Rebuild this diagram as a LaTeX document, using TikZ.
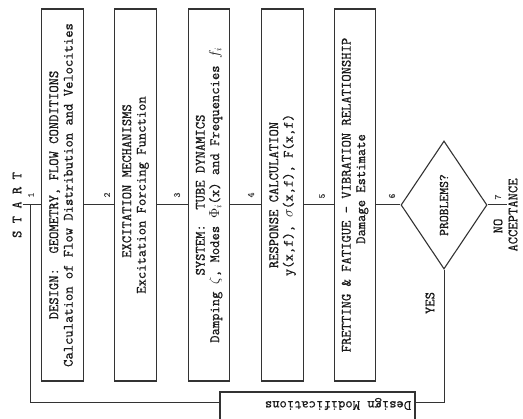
\documentclass[tikz,border=0pt]{standalone}
\usepackage{graphicx}
\usepackage{fontspec}
\usetikzlibrary{shapes.geometric}
\newfontfamily\lmtw{Latin Modern Mono}[FakeBold=0.7]
\newcommand\tw{\fontsize{14.2}{14.5}\selectfont\lmtw}
\newcommand\twsmall{\fontsize{13.3}{14}\selectfont\lmtw}
\newcommand\rt[1]{\rotatebox{90}{\begin{tabular}{@{}c@{}}#1\end{tabular}}}
\tikzset{
  ln/.style={draw=black!80, line width=1pt},
  stepbox/.style={draw=black!80, line width=1.1pt, rectangle, minimum width=41.5pt,
    minimum height=372pt, inner sep=0pt, font=\tw, text=black!90},
  num/.style={font=\fontsize{9.5}{9.5}\selectfont\lmtw, text=black!75, inner sep=0pt},
  lbl/.style={font=\tw, text=black!90, inner sep=1pt}
}
\begin{document}
\begin{tikzpicture}[x=1pt,y=-1pt]
\useasboundingbox (0,0) rectangle (523,419);
\coordinate (m) at (0,205);
\coordinate (yb) at (0,403);
\coordinate (j) at (30,205);
% start
\node[lbl] (start) at (17,205) {\rotatebox{90}{S T A R T}};
% boxes
\node[stepbox] (b1) at (62.5,195) {\rt{DESIGN:\ \ GEOMETRY, FLOW CONDITIONS\hspace{8pt}\\Calculation of Flow Distribution and Velocities}};
\node[stepbox] (b2) at (135.5,195) {\rt{\hspace{28pt}EXCITATION MECHANISMS\\Excitation Forcing Function}};
\node[stepbox] (b3) at (209,195) {\rt{SYSTEM:\ \ TUBE DYNAMICS\hspace{14pt}\\Damping $\zeta$, Modes $\Phi_i$(x) and Frequencies $f_i$}};
\node[stepbox] (b4) at (282.5,195) {\rt{RESPONSE CALCULATION\hspace{20pt}\\y(x,f), $\sigma$(x,f), F(x,f)\hspace{10pt}}};
\node[stepbox] (b5) at (355,195) {\rt{FRETTING \& FATIGUE - VIBRATION RELATIONSHIP\\\hspace{12pt}Damage Estimate}};
% decision
\node[draw=black!80, line width=1.1pt, diamond, minimum width=86pt, minimum height=128pt,
  inner sep=0pt, font=\twsmall, text=black!90] (dia) at (444,205) {\rotatebox{90}{PROBLEMS?}\hspace{18pt}};
\node[lbl] (no) at (498,226) {\rotatebox{90}{NO}};
\node[lbl] (accept) at (513,215) {\rotatebox{90}{ACCEPTANCE}};
\node[lbl] (yes) at (430,303) {\rotatebox{90}{YES}};
% design modifications
\node[draw=black!80, line width=1.1pt, rectangle, minimum width=195pt, minimum height=32pt, inner sep=0pt] (dm) at (317.5,408) {};
\node[lbl] (dmt) at (338,404) {\rotatebox{180}{Design Modifications}};
% connectors
\draw[ln] (start.east) -- (b1.west |- m);
\draw[ln] (b1.east |- m) -- (b2.west |- m);
\draw[ln] (b2.east |- m) -- (b3.west |- m);
\draw[ln] (b3.east |- m) -- (b4.west |- m);
\draw[ln] (b4.east |- m) -- (b5.west |- m);
\draw[ln] (b5.east |- m) -- (dia.west);
\draw[ln] (dia.east) -- (accept.west |- m);
\draw[ln] (dia.south) |- (dm.east |- yb);
\draw[ln] (dm.west |- yb) -| (j);
% step numbers
\node[num] (n1) at (31,195) {\rotatebox{90}{1}};
\node[num] (n2) at (107,195) {\rotatebox{90}{2}};
\node[num] (n3) at (177,195) {\rotatebox{90}{3}};
\node[num] (n4) at (251,195) {\rotatebox{90}{4}};
\node[num] (n5) at (322,196) {\rotatebox{90}{5}};
\node[num] (n6) at (392,196) {\rotatebox{90}{6}};
\node[num] (n7) at (498,197) {\rotatebox{90}{7}};
\end{tikzpicture}
\end{document}
